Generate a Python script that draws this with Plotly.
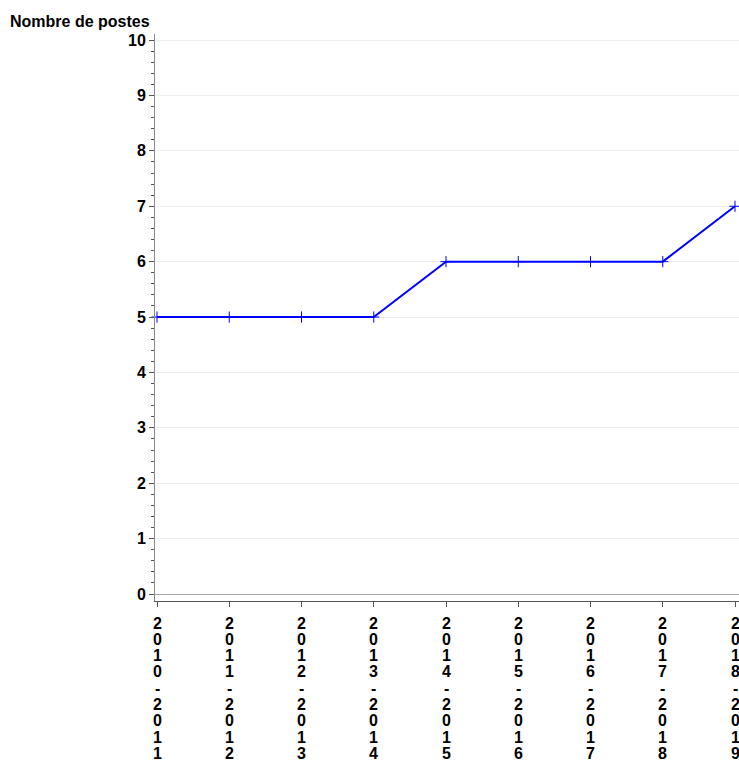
import plotly.graph_objects as go

periods = ["2010-2011", "2011-2012", "2012-2013", "2013-2014", "2014-2015",
           "2015-2016", "2016-2017", "2017-2018", "2018-2019"]
postes = [5, 5, 5, 5, 6, 6, 6, 6, 7]
y_ticks = list(range(0, 11))

W, H = 739, 760
L, R, T, B = 155, 0, 34, 159
plot_w = W - L - R
plot_h = H - T - B
px_per_cat = (735 - 157) / 8.0
x0 = -(157 - L) / px_per_cat
x1 = 8 + (L + plot_w - 735) / px_per_cat

xs = list(range(len(periods)))
font_family = "Liberation Sans, Arial, sans-serif"

fig = go.Figure()
fig.add_trace(go.Scatter(
    x=xs, y=postes, mode="lines+markers",
    line=dict(color="#0000ff", width=2),
    marker=dict(symbol="cross-thin", size=8, color="#0000ff",
                line=dict(color="#0000ff", width=1)),
    cliponaxis=False, showlegend=False,
))

# vertical (stacked-character) category labels
first_center_px = 623
line_step = 16.3
for xi, p in zip(xs, periods):
    for k, ch in enumerate(p):
        cy = first_center_px + k * line_step
        fig.add_annotation(
            x=xi, xref="x", y=1 - (cy - T) / plot_h, yref="paper",
            text=ch, showarrow=False, xanchor="center", yanchor="middle",
            font=dict(size=16, family=font_family, color="black", weight="bold"),
        )

fig.update_layout(
    width=W, height=H,
    margin=dict(l=L, r=R, t=T, b=B, pad=0),
    plot_bgcolor="white", paper_bgcolor="white",
    font=dict(family=font_family, color="black"),
    title=dict(text="<b>Nombre de postes</b>", x=10 / W, xanchor="left",
               xref="container",
               y=1 - 21 / H, yref="container", yanchor="middle",
               font=dict(size=16, family=font_family, color="black")),
)

fig.update_xaxes(
    range=[x0, x1], tickmode="array", tickvals=xs,
    ticktext=["" for _ in periods],
    showgrid=False, zeroline=False, showline=True, linecolor="#555555",
    linewidth=1, ticks="outside", ticklen=5, tickcolor="#555555",
    automargin=False, fixedrange=True,
)
fig.update_yaxes(
    range=[-0.126, 10.11], tickmode="array", tickvals=y_ticks,
    ticktext=[str(v) for v in y_ticks],
    showgrid=True, gridcolor="#ececec", gridwidth=1,
    zeroline=True, zerolinecolor="#a8a8a8", zerolinewidth=1,
    showline=True, linecolor="#8a8a8a", linewidth=1,
    ticks="outside", ticklen=5, tickcolor="#555555",
    minor=dict(ticks="outside", dtick=0.2, ticklen=3, tickcolor="#555555",
               showgrid=False),
    tickfont=dict(size=16, family=font_family, color="black", weight="bold"),
    automargin=False, fixedrange=True,
)

fig.write_html("out.html", config={"displayModeBar": False},
               post_script="document.body.style.margin='0';document.body.style.overflow='hidden';")
